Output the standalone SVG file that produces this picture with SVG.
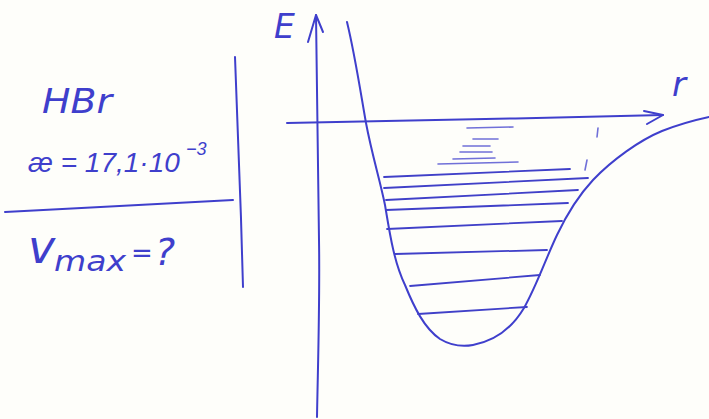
<svg xmlns="http://www.w3.org/2000/svg" width="709" height="419" viewBox="0 0 709 419">
<style>
.ink{fill:none;stroke:#3f3fcc;stroke-width:2;stroke-linecap:round;stroke-linejoin:round}
.lvl{fill:none;stroke:#4040c8;stroke-width:1.8;stroke-linecap:round}
.faint{fill:none;stroke:#7070d8;stroke-width:1.6;stroke-linecap:round}
.hw{fill:#3f3fcc;font-family:"DejaVu Sans","Liberation Sans",sans-serif;font-style:italic}
.hn{fill:#3f3fcc;font-family:"Liberation Sans",Arial,sans-serif;font-style:italic}
</style>
<rect width="709" height="419" fill="#fefefa"/>
<g id="given">
<text class="hw" x="42" y="113" font-size="34" textLength="70" lengthAdjust="spacingAndGlyphs">HBr</text>
<text class="hn" x="28" y="172" font-size="28">æ = 17,1·10</text>
<text class="hn" x="186" y="155" font-size="18">−3</text>
<path class="ink" d="M5,212 C80,208 160,204 233,200"/>
<text class="hw" x="28" y="263" font-size="46">v</text>
<text class="hw" x="54" y="271" font-size="28" textLength="72" lengthAdjust="spacingAndGlyphs">max</text>
<text class="hw" x="131" y="262" font-size="26">=</text>
<text class="hw" x="155" y="265" font-size="38">?</text>
<path class="ink" d="M235,57 C238,130 241,210 243,287"/>
</g>
<g id="axes">
<path class="ink" d="M317,417 C318,360 320,300 319,240 C318,180 317,100 316,15"/>
<path class="ink" d="M308,42 L316,15 L323,32"/>
<text class="hw" x="274" y="38" font-size="33" font-style="normal">E</text>
<path class="ink" d="M287,123 C400,121 540,118 663,115"/>
<path class="ink" d="M644,111 L663,115 L647,124"/>
<text class="hw" x="672" y="96" font-size="34">r</text>
</g>
<g id="potential">
<path class="ink" d="M347,22 C355,55 361,95 366,123 C372,155 380,180 385,205 C390,235 394,262 405,285 C414,307 424,328 440,339 C450,345 462,347 473,345 C495,341 512,328 524,308 C537,285 546,258 557,235 C567,214 579,195 593,180 C612,160 640,140 662,131 C680,124 695,120 709,117"/>
</g>
<g id="levels">
<path class="lvl" d="M384,177 L570,169"/>
<path class="lvl" d="M384,188 L588,178"/>
<path class="lvl" d="M386,200 L578,190"/>
<path class="lvl" d="M386,210 L568,203"/>
<path class="lvl" d="M387,229 L562,221"/>
<path class="lvl" d="M395,254 L547,250"/>
<path class="lvl" d="M410,286 L540,275"/>
<path class="lvl" d="M418,314 L527,307"/>
<path class="faint" d="M438,164 L518,162"/>
<path class="faint" d="M453,159 L495,158"/>
<path class="faint" d="M460,152 L492,152"/>
<path class="faint" d="M463,146 L490,146"/>
<path class="faint" d="M473,139 L498,139"/>
<path class="faint" d="M467,128 L513,127"/>
<path class="faint" d="M598,128 L597,137"/>
<path class="faint" d="M587,160 L585,170"/>
</g>
</svg>
